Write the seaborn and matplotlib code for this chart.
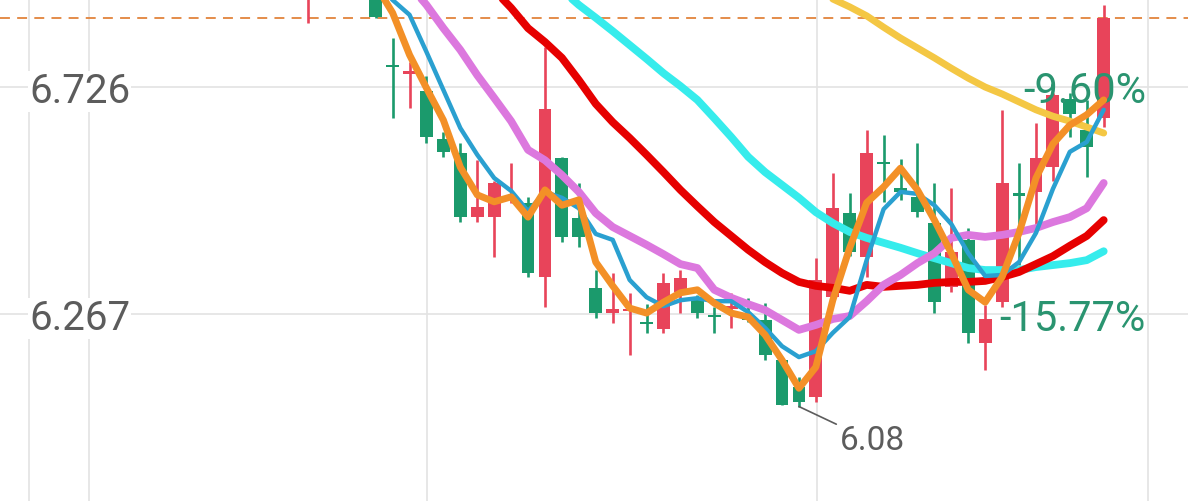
import matplotlib
matplotlib.use("Agg")
import matplotlib.pyplot as plt
import matplotlib.transforms as mtransforms
import pandas as pd
import seaborn as sns

# candle data, one entry per trading day (first ones are above the visible window)
opens = [6.915, 6.950, 6.980, 6.940, 6.935, 6.771, 6.752, 6.718, 6.621, 6.593,
         6.463, 6.463, 6.498, 6.492, 6.342, 6.583, 6.461, 6.320, 6.269, 6.273,
         6.251, 6.237, 6.312, 6.300, 6.265, 6.277, 6.263, 6.255, 6.174, 6.120,
         6.099, 6.302, 6.471, 6.382, 6.574, 6.522, 6.504, 6.451, 6.322, 6.417,
         6.208, 6.291, 6.512, 6.514, 6.564, 6.702, 6.639, 6.663]
highs = [6.965, 6.990, 7.000, 6.960, 6.950, 6.825, 6.777, 6.748, 6.635, 6.613,
         6.578, 6.536, 6.572, 6.504, 6.807, 6.585, 6.532, 6.356, 6.350, 6.310,
         6.287, 6.350, 6.356, 6.306, 6.281, 6.310, 6.300, 6.289, 6.178, 6.140,
         6.380, 6.552, 6.512, 6.639, 6.629, 6.580, 6.613, 6.532, 6.522, 6.441,
         6.285, 6.680, 6.572, 6.653, 6.714, 6.714, 6.700, 6.892]
lows = [6.856, 6.930, 6.930, 6.910, 6.866, 6.663, 6.684, 6.613, 6.585, 6.453,
        6.453, 6.382, 6.492, 6.342, 6.281, 6.413, 6.403, 6.259, 6.249, 6.184,
        6.229, 6.229, 6.269, 6.259, 6.229, 6.239, 6.251, 6.174, 6.083, 6.080,
        6.089, 6.295, 6.384, 6.342, 6.494, 6.498, 6.463, 6.269, 6.312, 6.208,
        6.154, 6.281, 6.366, 6.443, 6.536, 6.625, 6.544, 6.645]
closes = [6.950, 6.970, 6.940, 6.920, 6.868, 6.767, 6.758, 6.625, 6.595, 6.463,
          6.483, 6.532, 6.504, 6.350, 6.682, 6.423, 6.423, 6.269, 6.277, 6.277,
          6.247, 6.330, 6.340, 6.269, 6.261, 6.283, 6.255, 6.184, 6.084, 6.089,
          6.336, 6.481, 6.392, 6.593, 6.570, 6.514, 6.473, 6.291, 6.392, 6.229,
          6.257, 6.532, 6.506, 6.583, 6.710, 6.672, 6.605, 6.866]

# moving averages
ma5 = [None] * 4 + [
    6.932, 6.876, 6.791, 6.724, 6.659, 6.564, 6.508, 6.494, 6.504, 6.463,
    6.518, 6.487, 6.498, 6.372, 6.324, 6.279, 6.269, 6.291, 6.310, 6.316,
    6.289, 6.269, 6.261, 6.225, 6.174, 6.117, 6.160, 6.295, 6.401, 6.492,
    6.524, 6.562, 6.518, 6.457, 6.390, 6.316, 6.291, 6.342, 6.431, 6.542,
    6.611, 6.649, 6.670, 6.700]
ma10 = [None] * 4 + [
    6.942, 6.902, 6.872, 6.797, 6.720, 6.643, 6.589, 6.542, 6.516, 6.475,
    6.514, 6.502, 6.481, 6.429, 6.417, 6.336, 6.301, 6.283, 6.295, 6.299,
    6.293, 6.293, 6.271, 6.239, 6.202, 6.180, 6.192, 6.229, 6.261, 6.376,
    6.479, 6.514, 6.510, 6.487, 6.449, 6.390, 6.344, 6.346, 6.372, 6.431,
    6.520, 6.595, 6.615, 6.680]
ma20 = [None] * 4 + [
    7.023, 6.983, 6.932, 6.892, 6.845, 6.801, 6.750, 6.704, 6.657, 6.599,
    6.578, 6.548, 6.514, 6.471, 6.443, 6.425, 6.407, 6.388, 6.368, 6.360,
    6.316, 6.300, 6.287, 6.275, 6.255, 6.235, 6.245, 6.257, 6.263, 6.293,
    6.326, 6.346, 6.370, 6.390, 6.421, 6.427, 6.423, 6.427, 6.433, 6.441,
    6.453, 6.463, 6.481, 6.532]
ma30 = [None] * 4 + [
    7.205, 7.165, 7.124, 7.084, 7.044, 7.007, 6.963, 6.922, 6.886, 6.845,
    6.817, 6.785, 6.740, 6.692, 6.655, 6.623, 6.589, 6.554, 6.518, 6.485,
    6.453, 6.425, 6.397, 6.372, 6.350, 6.332, 6.324, 6.320, 6.314, 6.326,
    6.322, 6.324, 6.326, 6.330, 6.332, 6.332, 6.334, 6.342, 6.352, 6.368,
    6.384, 6.405, 6.425, 6.457]
ma60 = [None] * 4 + [
    7.236, 7.205, 7.177, 7.149, 7.120, 7.092, 7.064, 7.035, 7.007, 6.979,
    6.951, 6.922, 6.892, 6.866, 6.839, 6.811, 6.783, 6.754, 6.728, 6.700,
    6.663, 6.625, 6.585, 6.554, 6.528, 6.502, 6.473, 6.451, 6.433, 6.421,
    6.411, 6.401, 6.390, 6.380, 6.370, 6.360, 6.356, 6.356, 6.356, 6.362,
    6.366, 6.370, 6.376, 6.394]
ma120 = [None] * 26 + [
    6.993, 6.973, 6.953, 6.934, 6.918, 6.904, 6.888, 6.870, 6.847, 6.825,
    6.805, 6.785, 6.764, 6.744, 6.726, 6.712, 6.696, 6.680, 6.667, 6.657,
    6.645, 6.633]

y_ticks = [6.726, 6.267]
low_label = "6.08"
pct_labels = ["-9.60%", "-15.77%"]
pct_levels = [6.716, 6.255]

UP = "#e8445a"
DOWN = "#1b9a6c"

df = pd.DataFrame({"o": opens, "h": highs, "l": lows, "c": closes,
                   "ma5": ma5, "ma10": ma10, "ma20": ma20, "ma30": ma30,
                   "ma60": ma60, "ma120": ma120}, dtype=float)
df["idx"] = range(len(df))
df["color"] = [UP if c >= o else DOWN for o, c in zip(df["o"], df["c"])]

sns.set_theme(style="white")
plt.rcParams["font.family"] = ["Roboto", "DejaVu Sans"]

fig = plt.figure(figsize=(11.88, 5.01), dpi=100)
ax = fig.add_axes([0, 0, 1, 1])
XLIM = (-18.19, 51.98)
YLIM = (5.889, 6.902)
ax.set_xlim(*XLIM)
ax.set_ylim(*YLIM)
ax.axis("off")

grid_c = "#e3e3e3"
trans = mtransforms.blended_transform_factory(ax.transAxes, ax.transData)
for xf in [0.0244, 0.0749, 0.3594, 0.6877, 0.9663]:
    ax.axvline(xf * (XLIM[1] - XLIM[0]) + XLIM[0], color=grid_c, lw=1.2, zorder=0)
for yv in y_ticks:
    ax.axhline(yv, color=grid_c, lw=1.2, zorder=0)

# y labels, sitting a touch below their grid line
for yv in y_ticks:
    ax.annotate(f"{yv:.3f}", xy=(0.0244, yv), xycoords=trans,
                xytext=(0, -3), textcoords="offset points",
                ha="left", va="center", fontsize=29, color="#5c5c5c", zorder=1,
                bbox=dict(facecolor="white", edgecolor="none", pad=0.5))

# current price line
ax.axhline(df["c"].iloc[-1], color="#e2843c", lw=1.3, dashes=(5.5, 4), zorder=1)

# candles
ax.vlines(df["idx"], df["l"], df["h"], colors=df["color"], lw=1.9, zorder=2)
body = (df["c"] - df["o"]).abs().clip(lower=0.003)
ax.bar(df["idx"], body, bottom=df[["o", "c"]].min(axis=1), width=0.76,
       color=df["color"], linewidth=0, zorder=2)

# moving averages
ma_styles = [("ma120", "#f4c744", 5.0), ("ma60", "#36ecec", 5.6),
             ("ma30", "#e60000", 5.6), ("ma20", "#dc78de", 5.6),
             ("ma10", "#2aa0d0", 3.2), ("ma5", "#f39027", 5.0)]
for k, (col, colr, lw) in enumerate(ma_styles):
    sns.lineplot(data=df, x="idx", y=col, ax=ax, color=colr, lw=lw,
                 estimator=None, sort=False, zorder=3 + k * 0.1)
ax.set_xlim(*XLIM)
ax.set_ylim(*YLIM)

# percent labels on the right
for txt, lv in zip(pct_labels, pct_levels):
    ax.text(0.9646, lv, txt, transform=trans, ha="right", va="center",
            fontsize=30, color="#2a9470", zorder=2.5)

# lowest point annotation
low_i = int(df["l"].idxmin())
ax.annotate(low_label, xy=(low_i, df["l"].min()), xytext=(31.4, 6.010),
            ha="left", va="center", fontsize=24, color="#5c5c5c",
            arrowprops=dict(arrowstyle="-", color="#5c5c5c", lw=1.2,
                            shrinkA=0, shrinkB=0), zorder=5)

fig.savefig("out.png", dpi=100)
